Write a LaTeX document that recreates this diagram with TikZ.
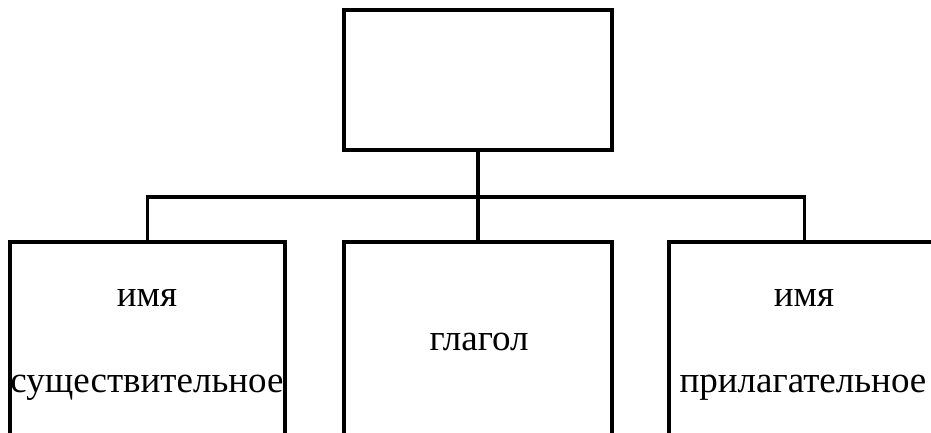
\documentclass[tikz,border=0pt]{standalone}
\usepackage{fontspec}
\setmainfont{Liberation Serif}
\begin{document}
\begin{tikzpicture}[x=1pt,y=-1pt,
  box/.style={draw,line width=3.6pt,anchor=north west,inner sep=0pt,outer sep=0pt},
  lbl/.style={font=\fontsize{37}{40}\selectfont,anchor=base,inner sep=0pt},
  conn/.style={line width=3.6pt}]
\useasboundingbox (0,0) rectangle (931,432);
\clip (0,0) rectangle (931,432);
\node[box,minimum width=268pt,minimum height=140pt] (top) at (344,10) {};
\node[box,minimum width=275pt,minimum height=240pt] (left) at (10,242) {};
\node[box,minimum width=268pt,minimum height=240pt] (mid) at (344,242) {};
\node[box,minimum width=271pt,minimum height=240pt] (right) at (669,242) {};
\coordinate (bus) at (478,197);
\draw[conn] (top.south) -- (bus);
\draw[conn] (left.north) |- (bus) -| (right.north);
\draw[conn] (bus) -- (mid.north);
\node[lbl] (l1) at (147,306) {имя};
\node[lbl] (l2) at (147,392) {существительное};
\node[lbl] (m1) at (479,350) {глагол};
\node[lbl] (r1) at (804,306) {имя};
\node[lbl] (r2) at (803,392) {прилагательное};
\end{tikzpicture}
\end{document}
